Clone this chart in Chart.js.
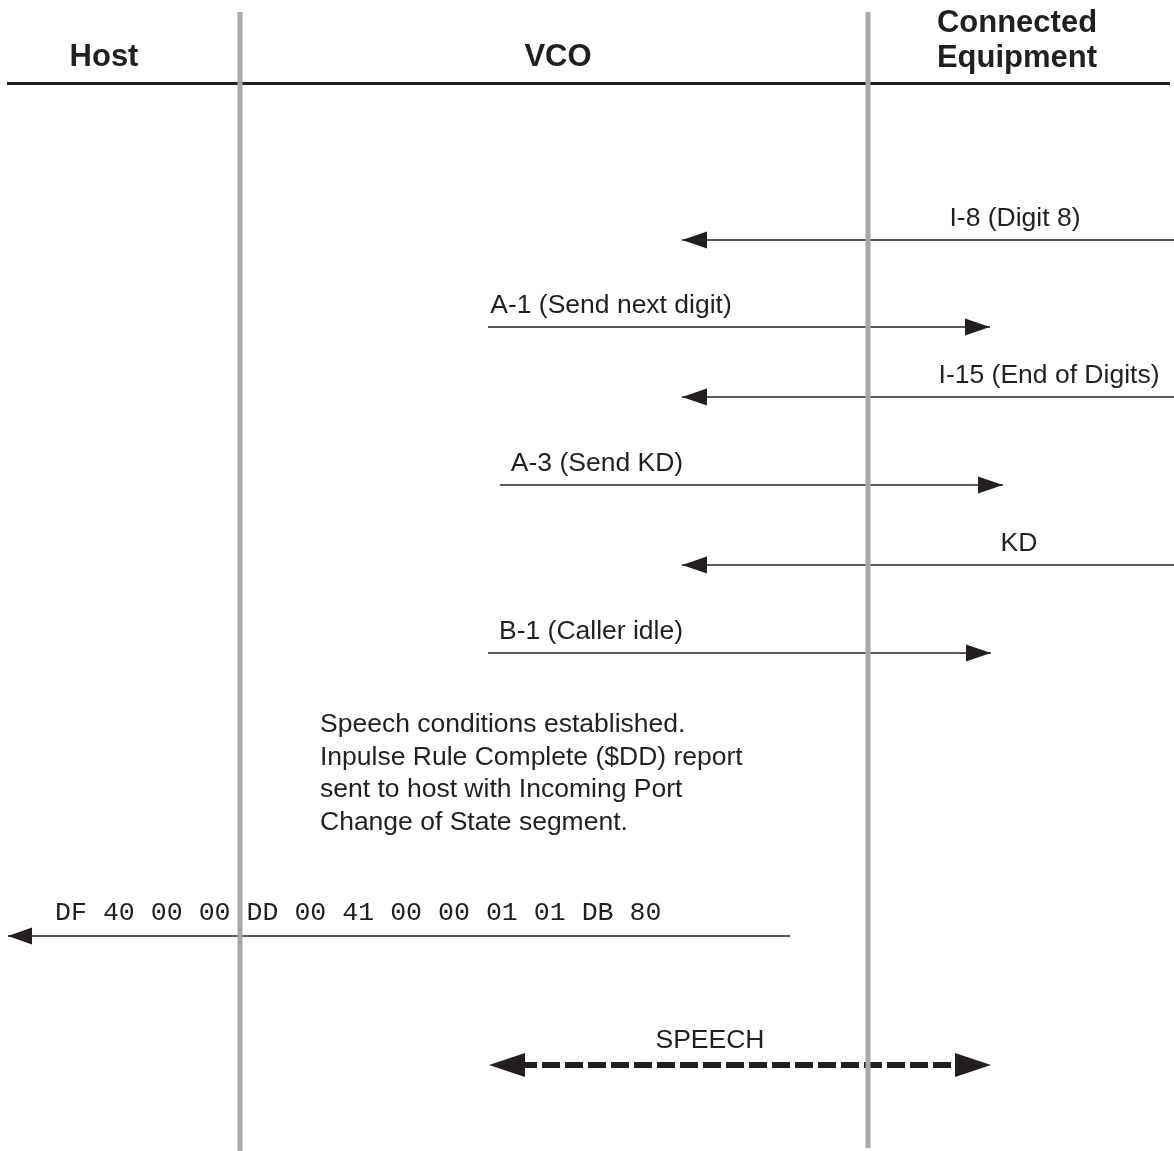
<!DOCTYPE html>
<html>
<head>
<meta charset="utf-8">
<title>VCO inpulse rule sequence</title>
<script src="https://cdn.jsdelivr.net/npm/chart.js@4.4.1/dist/chart.umd.min.js"></script>
<style>
  html, body { margin: 0; padding: 0; background: #ffffff; }
  #wrap { width: 1174px; height: 1151px; }
</style>
</head>
<body>
<div id="wrap"><canvas id="diagram" width="1174" height="1151"></canvas></div>
<script>
// participants and their lifelines
const participantNames = [["Host"], ["VCO"], ["Connected", "Equipment"]];
const participantX = [104, 558, 1017];
const lifelineX = [240, 868];

// messages between VCO and connected equipment (x = from / to, y = time row)
const messageLabels = ["I-8 (Digit 8)", "A-1 (Send next digit)", "I-15 (End of Digits)", "A-3 (Send KD)", "KD", "B-1 (Caller idle)"];
const messageFromX = [1174, 488, 1174, 500, 1174, 488];
const messageToX = [682, 990, 682, 1003, 682, 991];
const messageY = [240, 327, 397, 485, 565, 653];
const messageLabelX = [1015, 611, 1049, 597, 1019, 591];

// note and host report
const noteLines = [
  "Speech conditions established.",
  "Inpulse Rule Complete ($DD) report",
  "sent to host with Incoming Port",
  "Change of State segment."
];
const reportBytes = ["DF", "40", "00", "00", "DD", "00", "41", "00", "00", "01", "01", "DB", "80"];
const reportFromX = 790;
const reportToX = 8;
const reportY = 936;

// speech path
const speechLabel = "SPEECH";
const speechFromX = 489;
const speechToX = 991;
const speechY = 1065;

const ink = "#231f20";
const lifeGrey = "#a8a8a8";
const sans = '"Liberation Sans", Arial, Helvetica, sans-serif';

function seg(x1, y1, x2, y2) {
  return [{ x: x1, y: y1 }, { x: x2, y: y2 }];
}

const datasets = [];

lifelineX.forEach((lx, i) => {
  datasets.push({
    label: "lifeline " + i,
    data: seg(lx, 12, lx, i === 0 ? 1151 : 1148),
    borderColor: lifeGrey,
    borderWidth: 5,
    borderCapStyle: "butt"
  });
});

datasets.push({
  label: "header rule",
  data: seg(7, 83.5, 1170, 83.5),
  borderColor: ink,
  borderWidth: 3
});

messageLabels.forEach((lab, i) => {
  datasets.push({
    label: lab,
    data: seg(messageFromX[i], messageY[i], messageToX[i], messageY[i]),
    borderColor: ink,
    borderWidth: 1.4,
    arrow: { len: 25, half: 8.5, both: false }
  });
});

datasets.push({
  label: "report",
  data: seg(reportFromX, reportY, reportToX, reportY),
  borderColor: ink,
  borderWidth: 1.4,
  arrow: { len: 24, half: 8.5, both: false }
});

datasets.push({
  label: speechLabel,
  data: seg(speechFromX + 30, speechY, speechToX - 30, speechY),
  borderColor: ink,
  borderWidth: 6,
  borderDash: [18, 5],
  borderCapStyle: "butt"
});
datasets.push({
  label: "speech heads",
  data: seg(speechFromX, speechY, speechToX, speechY),
  borderColor: "rgba(0,0,0,0)",
  borderWidth: 0,
  arrow: { len: 36, half: 12, both: true }
});

datasets.forEach(d => {
  d.showLine = true;
  d.pointRadius = 0;
  d.pointHoverRadius = 0;
  d.fill = false;
});

function head(ctx, tipX, tipY, fromX, fromY, len, half) {
  const a = Math.atan2(tipY - fromY, tipX - fromX);
  ctx.save();
  ctx.translate(tipX, tipY);
  ctx.rotate(a);
  ctx.beginPath();
  ctx.moveTo(0, 0);
  ctx.lineTo(-len, -half);
  ctx.lineTo(-len, half);
  ctx.closePath();
  ctx.fill();
  ctx.restore();
}

const arrowHeads = {
  id: "arrowHeads",
  afterDatasetsDraw(chart) {
    const { ctx, scales } = chart;
    ctx.save();
    ctx.fillStyle = ink;
    chart.data.datasets.forEach(ds => {
      if (!ds.arrow) return;
      const p = ds.data.map(pt => [scales.x.getPixelForValue(pt.x), scales.y.getPixelForValue(pt.y)]);
      const a = p[0], b = p[p.length - 1];
      head(ctx, b[0], b[1], a[0], a[1], ds.arrow.len, ds.arrow.half);
      if (ds.arrow.both) head(ctx, a[0], a[1], b[0], b[1], ds.arrow.len, ds.arrow.half);
    });
    ctx.restore();
  }
};

const diagramText = {
  id: "diagramText",
  afterDatasetsDraw(chart) {
    const { ctx, scales } = chart;
    const px = v => scales.x.getPixelForValue(v);
    const py = v => scales.y.getPixelForValue(v);
    ctx.save();
    ctx.fillStyle = ink;
    ctx.textBaseline = "alphabetic";

    // participant headings
    ctx.font = "bold 31px " + sans;
    ctx.textAlign = "center";
    participantNames.forEach((lines, i) => {
      const base = lines.length === 1 ? 66 : 32;
      lines.forEach((t, k) => ctx.fillText(t, px(participantX[i]), py(base + k * 35)));
    });

    // message labels sit just above their arrows
    ctx.font = "26.5px " + sans;
    messageLabels.forEach((t, i) => {
      ctx.fillText(t, px(messageLabelX[i]), py(messageY[i] - 14));
    });
    ctx.fillText(speechLabel, px(710), py(speechY - 17));

    // note
    ctx.textAlign = "left";
    noteLines.forEach((t, k) => ctx.fillText(t, px(320), py(732 + k * 32.5)));

    // host report bytes, in a fixed-pitch face
    ctx.font = '26.6px "Liberation Mono", "Courier New", monospace';
    ctx.fillText(reportBytes.join(" "), px(55), py(reportY - 16));
    ctx.restore();
  }
};

new Chart(document.getElementById("diagram").getContext("2d"), {
  type: "scatter",
  data: { datasets: datasets },
  options: {
    responsive: false,
    animation: false,
    events: [],
    layout: { padding: 0 },
    plugins: {
      legend: { display: false },
      title: { display: false },
      tooltip: { enabled: false }
    },
    scales: {
      x: { type: "linear", min: 0, max: 1174, display: false },
      y: { type: "linear", min: 0, max: 1151, reverse: true, display: false }
    },
    elements: { line: { tension: 0 } }
  },
  plugins: [arrowHeads, diagramText]
});
</script>
</body>
</html>
